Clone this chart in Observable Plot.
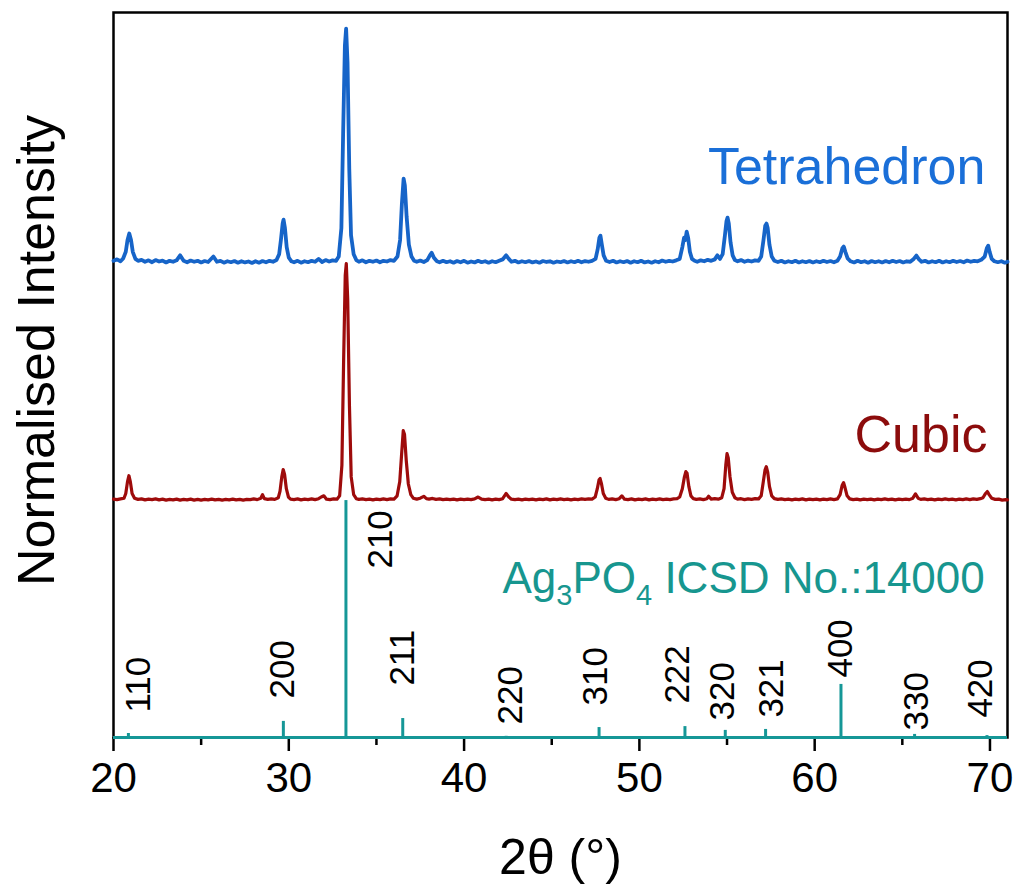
<!DOCTYPE html>
<html><head><meta charset="utf-8">
<script src="https://cdn.jsdelivr.net/npm/d3@7"></script>
<script src="https://cdn.jsdelivr.net/npm/@observablehq/plot@0.6"></script>
<style>body{margin:0;background:#fff;}</style>
</head><body><div id="chart"></div>
<script>
// XRD pattern of tetrahedral Ag3PO4: [2θ, normalised intensity]
const tetrahedron = [
[20.0,.012],[20.2,.018],[20.4,.010],[20.55,.022],[20.7,.05],[20.8,.10],[20.9,.127],[21.0,.10],[21.1,.05],[21.25,.02],
[21.4,.012],[21.6,.016],[21.8,.008],[22.0,.014],[22.2,.006],[22.4,.015],[22.6,.009],[22.8,.013],[23.0,.005],[23.2,.012],
[23.4,.008],[23.6,.014],[23.8,.035],[24.0,.012],[24.2,.006],[24.4,.013],[24.6,.008],[24.8,.012],[25.0,.005],[25.2,.011],
[25.4,.007],[25.7,.03],[25.9,.008],[26.1,.012],[26.3,.004],[26.5,.010],[26.7,.006],[26.9,.011],[27.1,.004],[27.3,.010],
[27.5,.005],[27.7,.009],[27.9,.003],[28.1,.010],[28.3,.004],[28.5,.011],[28.7,.006],[28.9,.012],[29.1,.008],[29.3,.015],
[29.45,.04],[29.55,.10],[29.65,.17],[29.7,.186],[29.78,.15],[29.88,.07],[30.0,.025],[30.15,.010],[30.3,.006],[30.5,.012],
[30.7,.004],[30.9,.010],[31.1,.006],[31.3,.012],[31.5,.008],[31.7,.020],[31.9,.007],[32.1,.015],[32.3,.009],[32.5,.014],
[32.7,.012],[32.85,.03],[33.0,.15],[33.1,.55],[33.2,.92],[33.27,.992],[33.35,.85],[33.45,.40],[33.55,.12],[33.7,.04],
[33.85,.015],[34.0,.008],[34.2,.014],[34.4,.006],[34.6,.012],[34.8,.008],[35.0,.013],[35.2,.006],[35.4,.012],[35.6,.009],
[35.8,.015],[36.0,.012],[36.2,.03],[36.35,.10],[36.45,.25],[36.55,.359],[36.62,.33],[36.72,.20],[36.85,.08],[37.0,.03],
[37.15,.012],[37.3,.008],[37.5,.013],[37.7,.007],[37.9,.015],[38.05,.035],[38.15,.046],[38.28,.025],[38.45,.010],[38.6,.006],
[38.8,.012],[39.0,.006],[39.2,.010],[39.4,.004],[39.6,.011],[39.8,.006],[40.0,.012],[40.2,.004],[40.4,.009],[40.6,.005],
[40.8,.012],[41.0,.006],[41.2,.010],[41.4,.004],[41.6,.010],[41.8,.006],[42.0,.012],[42.2,.018],[42.4,.035],[42.55,.02],
[42.7,.008],[42.9,.012],[43.1,.005],[43.3,.010],[43.5,.006],[43.7,.011],[43.9,.005],[44.1,.009],[44.3,.004],[44.5,.011],
[44.7,.007],[44.9,.010],[45.1,.004],[45.3,.009],[45.5,.006],[45.7,.011],[45.9,.005],[46.1,.010],[46.3,.006],[46.5,.012],
[46.7,.006],[46.9,.011],[47.1,.008],[47.3,.012],[47.5,.02],[47.62,.06],[47.72,.11],[47.78,.118],[47.86,.08],[47.96,.035],
[48.1,.012],[48.3,.007],[48.5,.012],[48.7,.005],[48.9,.010],[49.1,.006],[49.3,.011],[49.5,.004],[49.7,.010],[49.9,.006],
[50.1,.012],[50.3,.005],[50.5,.009],[50.7,.004],[50.9,.010],[51.1,.006],[51.3,.013],[51.5,.008],[51.7,.012],[51.9,.009],
[52.1,.014],[52.3,.02],[52.45,.07],[52.55,.11],[52.62,.10],[52.7,.135],[52.78,.11],[52.88,.05],[53.0,.02],[53.15,.012],
[53.3,.008],[53.5,.014],[53.7,.010],[53.9,.016],[54.1,.012],[54.3,.018],[54.45,.035],[54.6,.02],[54.75,.04],[54.88,.12],
[54.97,.18],[55.03,.194],[55.1,.17],[55.2,.09],[55.32,.035],[55.45,.015],[55.6,.010],[55.8,.015],[56.0,.008],[56.2,.013],
[56.4,.009],[56.6,.014],[56.8,.012],[56.95,.03],[57.08,.10],[57.18,.16],[57.25,.169],[57.32,.15],[57.42,.08],[57.55,.03],
[57.7,.012],[57.9,.007],[58.1,.012],[58.3,.005],[58.5,.010],[58.7,.006],[58.9,.012],[59.1,.005],[59.3,.010],[59.5,.006],
[59.7,.011],[59.9,.005],[60.1,.010],[60.3,.006],[60.5,.012],[60.7,.007],[60.9,.011],[61.1,.006],[61.3,.012],[61.45,.03],
[61.58,.065],[61.66,.072],[61.75,.05],[61.88,.022],[62.05,.010],[62.25,.005],[62.45,.012],[62.65,.006],[62.85,.010],[63.05,.004],
[63.25,.011],[63.45,.006],[63.65,.010],[63.85,.005],[64.05,.011],[64.25,.006],[64.45,.012],[64.65,.007],[64.85,.011],[65.05,.005],
[65.25,.010],[65.45,.008],[65.65,.020],[65.8,.034],[65.95,.018],[66.1,.008],[66.3,.012],[66.5,.005],[66.7,.010],[66.9,.006],
[67.1,.012],[67.3,.005],[67.5,.010],[67.7,.006],[67.9,.012],[68.1,.007],[68.3,.011],[68.5,.006],[68.7,.013],[68.9,.008],
[69.1,.012],[69.3,.010],[69.5,.016],[69.7,.03],[69.82,.065],[69.9,.076],[69.98,.05],[70.1,.02],[70.25,.010],[70.45,.006],
[70.65,.010],[70.85,.004],[71.0,.008]
];
// XRD pattern of cubic Ag3PO4
const cubic = [
[20.0,.006],[20.2,.004],[20.4,.007],[20.6,.010],[20.7,.03],[20.8,.08],[20.88,.105],[20.96,.08],[21.06,.03],[21.2,.010],
[21.4,.005],[21.6,.007],[21.8,.003],[22.0,.006],[22.2,.004],[22.4,.007],[22.6,.003],[22.8,.006],[23.0,.002],[23.2,.005],
[23.4,.003],[23.6,.006],[23.8,.002],[24.0,.005],[24.2,.003],[24.4,.006],[24.6,.002],[24.8,.005],[25.0,.002],[25.2,.005],
[25.4,.003],[25.6,.006],[25.8,.003],[26.0,.005],[26.2,.002],[26.4,.005],[26.6,.003],[26.8,.006],[27.0,.003],[27.2,.005],
[27.4,.002],[27.6,.005],[27.8,.004],[28.0,.007],[28.2,.004],[28.4,.010],[28.5,.025],[28.6,.008],[28.8,.005],[29.0,.007],
[29.2,.005],[29.4,.012],[29.5,.04],[29.6,.10],[29.68,.131],[29.76,.11],[29.86,.05],[29.98,.015],[30.1,.006],[30.3,.004],
[30.5,.007],[30.7,.003],[30.9,.006],[31.1,.004],[31.3,.007],[31.5,.004],[31.7,.008],[31.85,.015],[32.0,.02],[32.15,.006],
[32.35,.004],[32.55,.007],[32.75,.006],[32.9,.02],[33.03,.15],[33.13,.60],[33.22,.95],[33.28,1.0],[33.36,.85],[33.46,.40],
[33.56,.10],[33.7,.025],[33.85,.008],[34.0,.005],[34.2,.007],[34.4,.004],[34.6,.006],[34.8,.003],[35.0,.006],[35.2,.004],
[35.4,.007],[35.6,.004],[35.8,.007],[36.0,.006],[36.18,.02],[36.33,.08],[36.44,.20],[36.53,.295],[36.6,.28],[36.7,.17],
[36.82,.07],[36.96,.025],[37.1,.010],[37.3,.006],[37.5,.010],[37.7,.018],[37.85,.008],[38.0,.006],[38.2,.009],[38.4,.005],
[38.6,.007],[38.8,.004],[39.0,.006],[39.2,.004],[39.4,.006],[39.6,.003],[39.8,.006],[40.0,.004],[40.2,.006],[40.4,.004],
[40.6,.007],[40.8,.015],[41.0,.006],[41.2,.004],[41.4,.006],[41.6,.003],[41.8,.006],[42.0,.004],[42.2,.008],[42.4,.03],
[42.55,.015],[42.7,.006],[42.9,.004],[43.1,.006],[43.3,.003],[43.5,.006],[43.7,.004],[43.9,.006],[44.1,.003],[44.3,.006],
[44.5,.004],[44.7,.007],[44.9,.003],[45.1,.006],[45.3,.004],[45.5,.007],[45.7,.004],[45.9,.006],[46.1,.003],[46.3,.006],
[46.5,.004],[46.7,.007],[46.9,.005],[47.1,.007],[47.3,.006],[47.48,.015],[47.6,.05],[47.7,.088],[47.76,.093],[47.84,.07],
[47.94,.03],[48.08,.010],[48.25,.005],[48.45,.007],[48.65,.004],[48.85,.008],[49.0,.02],[49.15,.006],[49.35,.004],[49.55,.007],
[49.75,.003],[49.95,.006],[50.15,.004],[50.35,.007],[50.55,.003],[50.75,.006],[50.95,.004],[51.15,.007],[51.35,.004],[51.55,.006],
[51.75,.004],[51.95,.007],[52.15,.008],[52.3,.015],[52.45,.05],[52.57,.10],[52.65,.122],[52.72,.115],[52.82,.06],[52.94,.02],
[53.08,.008],[53.25,.005],[53.45,.007],[53.65,.004],[53.85,.008],[53.95,.018],[54.1,.006],[54.3,.008],[54.5,.006],[54.7,.012],
[54.83,.05],[54.93,.15],[55.0,.198],[55.07,.18],[55.17,.10],[55.3,.035],[55.45,.012],[55.6,.006],[55.8,.008],[56.0,.004],
[56.2,.007],[56.4,.005],[56.6,.008],[56.8,.007],[56.95,.02],[57.07,.08],[57.17,.13],[57.24,.143],[57.32,.12],[57.42,.06],
[57.55,.02],[57.7,.008],[57.9,.005],[58.1,.007],[58.3,.004],[58.5,.006],[58.7,.003],[58.9,.006],[59.1,.004],[59.3,.007],
[59.5,.003],[59.7,.006],[59.9,.004],[60.1,.006],[60.3,.003],[60.5,.006],[60.7,.004],[60.9,.007],[61.1,.004],[61.3,.007],
[61.45,.025],[61.57,.065],[61.65,.076],[61.73,.055],[61.85,.02],[62.0,.007],[62.2,.004],[62.4,.006],[62.6,.003],[62.8,.006],
[63.0,.004],[63.2,.006],[63.4,.003],[63.6,.006],[63.8,.004],[64.0,.007],[64.2,.004],[64.4,.006],[64.6,.003],[64.8,.006],
[65.0,.004],[65.2,.006],[65.4,.004],[65.6,.010],[65.75,.028],[65.9,.010],[66.05,.005],[66.25,.007],[66.45,.004],[66.65,.006],
[66.85,.003],[67.05,.006],[67.25,.004],[67.45,.007],[67.65,.004],[67.85,.006],[68.05,.003],[68.25,.006],[68.45,.004],[68.65,.007],
[68.85,.004],[69.05,.007],[69.25,.005],[69.45,.008],[69.6,.012],[69.75,.030],[69.85,.038],[69.95,.025],[70.1,.010],[70.3,.005],
[70.5,.006],[70.7,.002],[70.9,.004],[71.0,.003]
];
// Reference pattern Ag3PO4 ICSD No. 14000
const stickPos    = [20.85, 29.69, 33.26, 36.50, 42.40, 47.70, 52.60, 54.90, 57.20, 61.50, 65.70, 69.83];
const stickHeight = [0.017, 0.068, 1.000, 0.080, 0.005, 0.042, 0.046, 0.030, 0.034, 0.224, 0.013, 0.008];
const hkl         = ["110","200","210","211","220","310","222","320","321","400","330","420"];
const hklLabelX   = [21.43, 29.64, 35.23, 36.49, 42.65, 47.50, 52.17, 54.74, 57.54, 61.47, 65.81, 69.46];
const hklLabelY   = [0.105, 0.165, 0.713, 0.219, 0.055, 0.135, 0.143, 0.072, 0.084, 0.253, 0.030, 0.084];
const seriesNames = ["Tetrahedron", "Cubic", "Ag3PO4 ICSD No.:14000"];
const offsets     = [2, 1, 0];
const xTicks      = [20, 30, 40, 50, 60, 70];
const xMinorTicks = [25, 35, 45, 55, 65];

const blue = "#1664c8", blueText = "#1a6fd8";
const red = "#9e0b0b", redText = "#8c0c0c";
const teal = "#159797", tealText = "#17968f";

const sticks = stickPos.map((x, i) => ({x, h: stickHeight[i], hkl: hkl[i], lx: hklLabelX[i], ly: hklLabelY[i]}));

const plot = Plot.plot({
  width: 1018, height: 889,
  marginLeft: 113, marginRight: 11, marginTop: 12, marginBottom: 152,
  x: {domain: [20, 71]},
  y: {domain: [0, 3.06], axis: null},
  style: {fontFamily: "'Liberation Sans', Arial, sans-serif", background: "white", color: "black", overflow: "visible"},
  marks: [
    Plot.frame({stroke: "black", strokeWidth: 2.5}),
    Plot.axisX({ticks: xTicks, tickSize: 14, tickPadding: 11, fontSize: 42, strokeWidth: 2.5, label: null, tickFormat: d => String(d)}),
    Plot.axisX({ticks: xMinorTicks, tickSize: 8, strokeWidth: 2.5, text: null, label: null}),
    Plot.line(tetrahedron, {x: d => d[0], y: d => d[1] + offsets[0], stroke: blue, strokeWidth: 3.8}),
    Plot.line(cubic, {x: d => d[0], y: d => d[1] + offsets[1], stroke: red, strokeWidth: 3.2}),
    Plot.ruleY([0], {stroke: teal, strokeWidth: 3}),
    Plot.ruleX(sticks, {x: "x", y1: 0, y2: "h", stroke: teal, strokeWidth: 3}),
    Plot.text(sticks, {x: "lx", y: "ly", text: "hkl", rotate: -90, textAnchor: "start", lineAnchor: "middle", fontSize: 35, fill: "black"}),
    Plot.text([seriesNames[0]], {x: 69.74, y: 2.338, textAnchor: "end", lineAnchor: "bottom", fontSize: 52, fill: blueText}),
    Plot.text([seriesNames[1]], {x: 69.86, y: 1.207, textAnchor: "end", lineAnchor: "bottom", fontSize: 52, fill: redText}),
    Plot.text([seriesNames[2]], {x: 42.19, y: 0.608, textAnchor: "start", lineAnchor: "bottom", fontSize: 44, fill: tealText}),
    Plot.text(["2θ (°)"], {frameAnchor: "bottom", dy: 136, textAnchor: "middle", lineAnchor: "bottom", fontSize: 50, fill: "black"}),
    Plot.text(["Normalised Intensity"], {frameAnchor: "left", dx: -60, dy: -24.5, rotate: -90, textAnchor: "middle", lineAnchor: "bottom", fontSize: 52, fill: "black"})
  ]
});

// subscripts for the chemical formula
d3.select(plot).selectAll("text").filter(function () { return this.textContent === seriesNames[2]; })
  .each(function () {
    const t = d3.select(this);
    t.text(null);
    t.append("tspan").text("Ag");
    t.append("tspan").attr("font-size", 29).attr("dy", 12).text("3");
    t.append("tspan").attr("dy", -12).text("PO");
    t.append("tspan").attr("font-size", 29).attr("dy", 12).text("4");
    t.append("tspan").attr("dy", -12).text(" ICSD No.:14000");
  });

document.getElementById("chart").appendChild(plot);
</script>
</body></html>
